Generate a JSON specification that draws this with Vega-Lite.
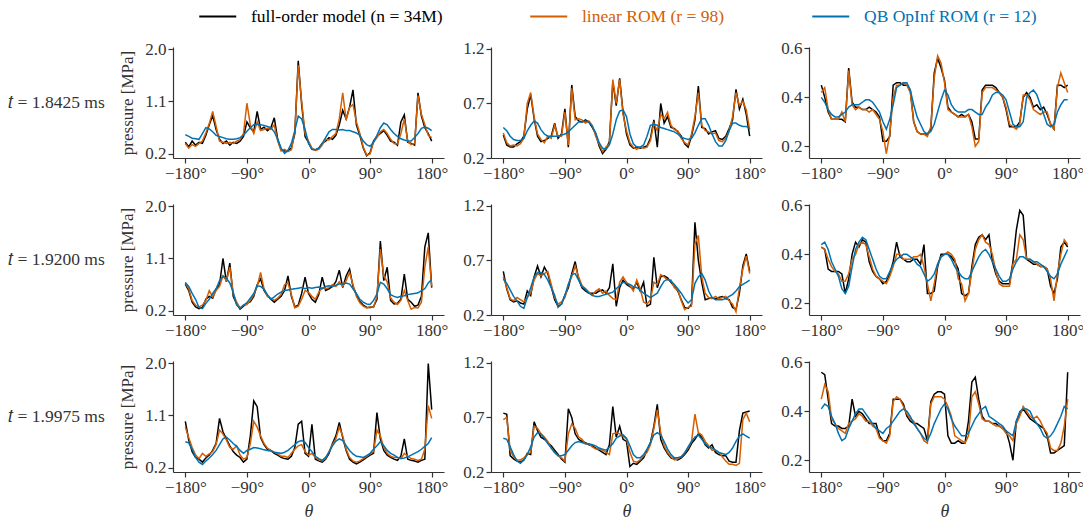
{
"$schema":"https://vega.github.io/schema/vega-lite/v6.json",
"padding":{"left":8,"top":6,"right":5,"bottom":2},
"background":"white",
"config":{"font":"Liberation Serif","view":{"stroke":null},
"axis":{"grid":false,"domainColor":"#333","tickColor":"#333","labelColor":"#333","titleColor":"#333","labelFontSize":17,"titleFontSize":17,"titleFontWeight":"normal","tickSize":5,"domainWidth":1.2,"tickWidth":1.2,"labelPadding":2,"titlePadding":8}},
"data":{"values":[
{"p":11,"x":-180,"f":0.4,"l":0.38,"q":0.53},{"p":11,"x":-175,"f":0.32,"l":0.3,"q":0.5},{"p":11,"x":-170,"f":0.42,"l":0.36,"q":0.47},{"p":11,"x":-165,"f":0.35,"l":0.33,"q":0.46},{"p":11,"x":-160,"f":0.4,"l":0.38,"q":0.45},{"p":11,"x":-155,"f":0.38,"l":0.42,"q":0.55},{"p":11,"x":-150,"f":0.52,"l":0.56,"q":0.65},{"p":11,"x":-145,"f":0.7,"l":0.72,"q":0.63},{"p":11,"x":-140,"f":0.86,"l":0.93,"q":0.58},{"p":11,"x":-135,"f":0.62,"l":0.67,"q":0.52},{"p":11,"x":-130,"f":0.45,"l":0.42,"q":0.5},{"p":11,"x":-125,"f":0.38,"l":0.4,"q":0.48},{"p":11,"x":-120,"f":0.42,"l":0.38,"q":0.46},{"p":11,"x":-115,"f":0.35,"l":0.4,"q":0.45},{"p":11,"x":-110,"f":0.4,"l":0.38,"q":0.45},{"p":11,"x":-105,"f":0.38,"l":0.42,"q":0.46},{"p":11,"x":-100,"f":0.42,"l":0.45,"q":0.48},{"p":11,"x":-95,"f":0.5,"l":0.55,"q":0.52},{"p":11,"x":-90,"f":0.75,"l":1.07,"q":0.59},{"p":11,"x":-85,"f":0.65,"l":0.7,"q":0.65},{"p":11,"x":-80,"f":0.58,"l":0.55,"q":0.7},{"p":11,"x":-75,"f":0.93,"l":0.75,"q":0.71},{"p":11,"x":-70,"f":0.62,"l":0.6,"q":0.7},{"p":11,"x":-65,"f":0.66,"l":0.62,"q":0.69},{"p":11,"x":-60,"f":0.6,"l":0.64,"q":0.67},{"p":11,"x":-55,"f":0.65,"l":0.62,"q":0.65},{"p":11,"x":-50,"f":0.82,"l":0.7,"q":0.58},{"p":11,"x":-45,"f":0.45,"l":0.42,"q":0.45},{"p":11,"x":-40,"f":0.27,"l":0.25,"q":0.3},{"p":11,"x":-35,"f":0.25,"l":0.28,"q":0.21},{"p":11,"x":-30,"f":0.26,"l":0.24,"q":0.26},{"p":11,"x":-25,"f":0.3,"l":0.27,"q":0.38},{"p":11,"x":-20,"f":0.55,"l":0.58,"q":0.6},{"p":11,"x":-15,"f":1.8,"l":1.72,"q":0.85},{"p":11,"x":-10,"f":1.05,"l":1.1,"q":0.8},{"p":11,"x":-5,"f":0.5,"l":0.55,"q":0.62},{"p":11,"x":0,"f":0.4,"l":0.42,"q":0.38},{"p":11,"x":5,"f":0.28,"l":0.3,"q":0.28},{"p":11,"x":10,"f":0.27,"l":0.26,"q":0.27},{"p":11,"x":15,"f":0.3,"l":0.28,"q":0.3},{"p":11,"x":20,"f":0.38,"l":0.35,"q":0.38},{"p":11,"x":25,"f":0.42,"l":0.45,"q":0.48},{"p":11,"x":30,"f":0.48,"l":0.44,"q":0.58},{"p":11,"x":35,"f":0.45,"l":0.5,"q":0.62},{"p":11,"x":40,"f":0.52,"l":0.55,"q":0.62},{"p":11,"x":45,"f":0.7,"l":0.8,"q":0.61},{"p":11,"x":50,"f":0.95,"l":1.25,"q":0.62},{"p":11,"x":55,"f":0.8,"l":0.78,"q":0.6},{"p":11,"x":60,"f":1.0,"l":1.0,"q":0.6},{"p":11,"x":65,"f":1.3,"l":1.05,"q":0.58},{"p":11,"x":70,"f":0.7,"l":0.75,"q":0.56},{"p":11,"x":75,"f":0.52,"l":0.55,"q":0.52},{"p":11,"x":80,"f":0.3,"l":0.32,"q":0.42},{"p":11,"x":85,"f":0.17,"l":0.18,"q":0.36},{"p":11,"x":90,"f":0.22,"l":0.2,"q":0.33},{"p":11,"x":95,"f":0.42,"l":0.4,"q":0.4},{"p":11,"x":100,"f":0.5,"l":0.48,"q":0.52},{"p":11,"x":105,"f":0.55,"l":0.58,"q":0.65},{"p":11,"x":110,"f":0.6,"l":0.62,"q":0.73},{"p":11,"x":115,"f":0.52,"l":0.55,"q":0.7},{"p":11,"x":120,"f":0.42,"l":0.45,"q":0.62},{"p":11,"x":125,"f":0.4,"l":0.38,"q":0.55},{"p":11,"x":130,"f":0.35,"l":0.37,"q":0.5},{"p":11,"x":135,"f":0.75,"l":0.55,"q":0.46},{"p":11,"x":140,"f":0.87,"l":0.8,"q":0.44},{"p":11,"x":145,"f":0.4,"l":0.42,"q":0.42},{"p":11,"x":150,"f":0.38,"l":0.36,"q":0.42},{"p":11,"x":155,"f":0.35,"l":0.38,"q":0.48},{"p":11,"x":160,"f":1.25,"l":1.2,"q":0.55},{"p":11,"x":165,"f":0.85,"l":0.88,"q":0.64},{"p":11,"x":170,"f":0.65,"l":0.7,"q":0.66},{"p":11,"x":175,"f":0.55,"l":0.52,"q":0.64},{"p":11,"x":180,"f":0.42,"l":0.48,"q":0.6},
{"p":12,"x":-180,"f":0.41,"l":0.43,"q":0.48},{"p":12,"x":-175,"f":0.32,"l":0.34,"q":0.45},{"p":12,"x":-170,"f":0.3,"l":0.31,"q":0.4},{"p":12,"x":-165,"f":0.3,"l":0.32,"q":0.37},{"p":12,"x":-160,"f":0.33,"l":0.31,"q":0.36},{"p":12,"x":-155,"f":0.35,"l":0.33,"q":0.36},{"p":12,"x":-150,"f":0.4,"l":0.38,"q":0.38},{"p":12,"x":-145,"f":0.65,"l":0.7,"q":0.45},{"p":12,"x":-140,"f":0.78,"l":0.8,"q":0.5},{"p":12,"x":-135,"f":0.56,"l":0.58,"q":0.54},{"p":12,"x":-130,"f":0.4,"l":0.42,"q":0.52},{"p":12,"x":-125,"f":0.35,"l":0.37,"q":0.46},{"p":12,"x":-120,"f":0.36,"l":0.34,"q":0.42},{"p":12,"x":-115,"f":0.38,"l":0.4,"q":0.4},{"p":12,"x":-110,"f":0.4,"l":0.38,"q":0.4},{"p":12,"x":-105,"f":0.52,"l":0.5,"q":0.4},{"p":12,"x":-100,"f":0.38,"l":0.4,"q":0.4},{"p":12,"x":-95,"f":0.42,"l":0.4,"q":0.41},{"p":12,"x":-90,"f":0.65,"l":0.62,"q":0.42},{"p":12,"x":-85,"f":0.3,"l":0.32,"q":0.44},{"p":12,"x":-80,"f":0.87,"l":0.84,"q":0.47},{"p":12,"x":-75,"f":0.58,"l":0.55,"q":0.5},{"p":12,"x":-70,"f":0.54,"l":0.56,"q":0.53},{"p":12,"x":-65,"f":0.53,"l":0.55,"q":0.53},{"p":12,"x":-60,"f":0.55,"l":0.52,"q":0.54},{"p":12,"x":-55,"f":0.53,"l":0.54,"q":0.53},{"p":12,"x":-50,"f":0.48,"l":0.5,"q":0.49},{"p":12,"x":-45,"f":0.42,"l":0.4,"q":0.43},{"p":12,"x":-40,"f":0.31,"l":0.33,"q":0.34},{"p":12,"x":-35,"f":0.24,"l":0.26,"q":0.29},{"p":12,"x":-30,"f":0.28,"l":0.3,"q":0.28},{"p":12,"x":-25,"f":0.35,"l":0.33,"q":0.32},{"p":12,"x":-20,"f":0.9,"l":0.92,"q":0.42},{"p":12,"x":-15,"f":0.68,"l":0.7,"q":0.55},{"p":12,"x":-10,"f":0.93,"l":0.92,"q":0.63},{"p":12,"x":-5,"f":0.62,"l":0.6,"q":0.64},{"p":12,"x":0,"f":0.42,"l":0.45,"q":0.58},{"p":12,"x":5,"f":0.32,"l":0.34,"q":0.42},{"p":12,"x":10,"f":0.29,"l":0.3,"q":0.33},{"p":12,"x":15,"f":0.3,"l":0.28,"q":0.3},{"p":12,"x":20,"f":0.29,"l":0.3,"q":0.3},{"p":12,"x":25,"f":0.3,"l":0.29,"q":0.32},{"p":12,"x":30,"f":0.31,"l":0.3,"q":0.4},{"p":12,"x":35,"f":0.38,"l":0.36,"q":0.5},{"p":12,"x":40,"f":0.55,"l":0.52,"q":0.51},{"p":12,"x":45,"f":0.3,"l":0.45,"q":0.5},{"p":12,"x":50,"f":0.7,"l":0.6,"q":0.48},{"p":12,"x":55,"f":0.52,"l":0.56,"q":0.47},{"p":12,"x":60,"f":0.58,"l":0.62,"q":0.46},{"p":12,"x":65,"f":0.48,"l":0.5,"q":0.45},{"p":12,"x":70,"f":0.47,"l":0.46,"q":0.44},{"p":12,"x":75,"f":0.44,"l":0.45,"q":0.42},{"p":12,"x":80,"f":0.4,"l":0.38,"q":0.39},{"p":12,"x":85,"f":0.33,"l":0.34,"q":0.38},{"p":12,"x":90,"f":0.3,"l":0.32,"q":0.37},{"p":12,"x":95,"f":0.4,"l":0.42,"q":0.38},{"p":12,"x":100,"f":0.55,"l":0.58,"q":0.43},{"p":12,"x":105,"f":0.86,"l":0.8,"q":0.5},{"p":12,"x":110,"f":0.48,"l":0.5,"q":0.56},{"p":12,"x":115,"f":0.47,"l":0.45,"q":0.56},{"p":12,"x":120,"f":0.42,"l":0.44,"q":0.5},{"p":12,"x":125,"f":0.44,"l":0.42,"q":0.42},{"p":12,"x":130,"f":0.45,"l":0.43,"q":0.35},{"p":12,"x":135,"f":0.38,"l":0.36,"q":0.31},{"p":12,"x":140,"f":0.37,"l":0.35,"q":0.31},{"p":12,"x":145,"f":0.4,"l":0.38,"q":0.36},{"p":12,"x":150,"f":0.47,"l":0.45,"q":0.45},{"p":12,"x":155,"f":0.55,"l":0.58,"q":0.52},{"p":12,"x":160,"f":0.83,"l":0.8,"q":0.52},{"p":12,"x":165,"f":0.65,"l":0.68,"q":0.5},{"p":12,"x":170,"f":0.74,"l":0.72,"q":0.49},{"p":12,"x":175,"f":0.6,"l":0.64,"q":0.49},{"p":12,"x":180,"f":0.4,"l":0.46,"q":0.47},
{"p":13,"x":-180,"f":0.45,"l":0.42,"q":0.4},{"p":13,"x":-175,"f":0.4,"l":0.44,"q":0.38},{"p":13,"x":-170,"f":0.34,"l":0.35,"q":0.35},{"p":13,"x":-165,"f":0.31,"l":0.31,"q":0.33},{"p":13,"x":-160,"f":0.31,"l":0.31,"q":0.32},{"p":13,"x":-155,"f":0.31,"l":0.31,"q":0.32},{"p":13,"x":-150,"f":0.31,"l":0.34,"q":0.33},{"p":13,"x":-145,"f":0.3,"l":0.3,"q":0.34},{"p":13,"x":-140,"f":0.52,"l":0.51,"q":0.36},{"p":13,"x":-135,"f":0.38,"l":0.37,"q":0.37},{"p":13,"x":-130,"f":0.36,"l":0.35,"q":0.37},{"p":13,"x":-125,"f":0.36,"l":0.36,"q":0.37},{"p":13,"x":-120,"f":0.35,"l":0.35,"q":0.38},{"p":13,"x":-115,"f":0.35,"l":0.35,"q":0.39},{"p":13,"x":-110,"f":0.36,"l":0.34,"q":0.39},{"p":13,"x":-105,"f":0.35,"l":0.35,"q":0.38},{"p":13,"x":-100,"f":0.34,"l":0.33,"q":0.36},{"p":13,"x":-95,"f":0.32,"l":0.31,"q":0.34},{"p":13,"x":-90,"f":0.22,"l":0.26,"q":0.3},{"p":13,"x":-85,"f":0.22,"l":0.17,"q":0.27},{"p":13,"x":-80,"f":0.24,"l":0.25,"q":0.31},{"p":13,"x":-75,"f":0.45,"l":0.4,"q":0.37},{"p":13,"x":-70,"f":0.46,"l":0.45,"q":0.44},{"p":13,"x":-65,"f":0.46,"l":0.45,"q":0.45},{"p":13,"x":-60,"f":0.45,"l":0.46,"q":0.46},{"p":13,"x":-55,"f":0.45,"l":0.45,"q":0.46},{"p":13,"x":-50,"f":0.43,"l":0.42,"q":0.43},{"p":13,"x":-45,"f":0.3,"l":0.3,"q":0.37},{"p":13,"x":-40,"f":0.26,"l":0.26,"q":0.32},{"p":13,"x":-35,"f":0.25,"l":0.25,"q":0.29},{"p":13,"x":-30,"f":0.25,"l":0.25,"q":0.26},{"p":13,"x":-25,"f":0.25,"l":0.24,"q":0.25},{"p":13,"x":-20,"f":0.27,"l":0.28,"q":0.26},{"p":13,"x":-15,"f":0.5,"l":0.48,"q":0.29},{"p":13,"x":-10,"f":0.56,"l":0.57,"q":0.34},{"p":13,"x":-5,"f":0.52,"l":0.54,"q":0.39},{"p":13,"x":0,"f":0.47,"l":0.46,"q":0.43},{"p":13,"x":5,"f":0.36,"l":0.35,"q":0.41},{"p":13,"x":10,"f":0.34,"l":0.34,"q":0.37},{"p":13,"x":15,"f":0.33,"l":0.33,"q":0.35},{"p":13,"x":20,"f":0.32,"l":0.32,"q":0.34},{"p":13,"x":25,"f":0.33,"l":0.32,"q":0.34},{"p":13,"x":30,"f":0.32,"l":0.32,"q":0.34},{"p":13,"x":35,"f":0.33,"l":0.33,"q":0.35},{"p":13,"x":40,"f":0.3,"l":0.28,"q":0.35},{"p":13,"x":45,"f":0.23,"l":0.2,"q":0.34},{"p":13,"x":50,"f":0.23,"l":0.22,"q":0.33},{"p":13,"x":55,"f":0.43,"l":0.42,"q":0.33},{"p":13,"x":60,"f":0.45,"l":0.44,"q":0.36},{"p":13,"x":65,"f":0.45,"l":0.44,"q":0.38},{"p":13,"x":70,"f":0.45,"l":0.44,"q":0.41},{"p":13,"x":75,"f":0.44,"l":0.43,"q":0.42},{"p":13,"x":80,"f":0.42,"l":0.42,"q":0.42},{"p":13,"x":85,"f":0.4,"l":0.4,"q":0.41},{"p":13,"x":90,"f":0.35,"l":0.36,"q":0.39},{"p":13,"x":95,"f":0.28,"l":0.29,"q":0.34},{"p":13,"x":100,"f":0.28,"l":0.28,"q":0.29},{"p":13,"x":105,"f":0.28,"l":0.27,"q":0.28},{"p":13,"x":110,"f":0.3,"l":0.29,"q":0.28},{"p":13,"x":115,"f":0.4,"l":0.41,"q":0.3},{"p":13,"x":120,"f":0.42,"l":0.41,"q":0.4},{"p":13,"x":125,"f":0.4,"l":0.39,"q":0.42},{"p":13,"x":130,"f":0.36,"l":0.35,"q":0.43},{"p":13,"x":135,"f":0.37,"l":0.34,"q":0.41},{"p":13,"x":140,"f":0.35,"l":0.33,"q":0.37},{"p":13,"x":145,"f":0.36,"l":0.34,"q":0.33},{"p":13,"x":150,"f":0.33,"l":0.34,"q":0.29},{"p":13,"x":155,"f":0.29,"l":0.29,"q":0.28},{"p":13,"x":160,"f":0.27,"l":0.27,"q":0.29},{"p":13,"x":165,"f":0.45,"l":0.44,"q":0.34},{"p":13,"x":170,"f":0.45,"l":0.5,"q":0.37},{"p":13,"x":175,"f":0.44,"l":0.46,"q":0.39},{"p":13,"x":180,"f":0.45,"l":0.42,"q":0.39},
{"p":21,"x":-180,"f":0.66,"l":0.68,"q":0.69},{"p":21,"x":-175,"f":0.55,"l":0.58,"q":0.62},{"p":21,"x":-170,"f":0.35,"l":0.38,"q":0.5},{"p":21,"x":-165,"f":0.27,"l":0.3,"q":0.4},{"p":21,"x":-160,"f":0.24,"l":0.27,"q":0.26},{"p":21,"x":-155,"f":0.26,"l":0.3,"q":0.24},{"p":21,"x":-150,"f":0.4,"l":0.38,"q":0.33},{"p":21,"x":-145,"f":0.45,"l":0.55,"q":0.4},{"p":21,"x":-140,"f":0.42,"l":0.44,"q":0.5},{"p":21,"x":-135,"f":0.58,"l":0.55,"q":0.58},{"p":21,"x":-130,"f":0.65,"l":0.62,"q":0.72},{"p":21,"x":-125,"f":1.1,"l":0.8,"q":0.8},{"p":21,"x":-120,"f":0.7,"l":0.72,"q":0.76},{"p":21,"x":-115,"f":1.02,"l":0.95,"q":0.68},{"p":21,"x":-110,"f":0.45,"l":0.5,"q":0.52},{"p":21,"x":-105,"f":0.32,"l":0.35,"q":0.3},{"p":21,"x":-100,"f":0.23,"l":0.25,"q":0.25},{"p":21,"x":-95,"f":0.28,"l":0.3,"q":0.3},{"p":21,"x":-90,"f":0.33,"l":0.31,"q":0.34},{"p":21,"x":-85,"f":0.36,"l":0.38,"q":0.42},{"p":21,"x":-80,"f":0.45,"l":0.48,"q":0.5},{"p":21,"x":-75,"f":0.65,"l":0.62,"q":0.63},{"p":21,"x":-70,"f":0.75,"l":0.86,"q":0.62},{"p":21,"x":-65,"f":0.55,"l":0.58,"q":0.57},{"p":21,"x":-60,"f":0.46,"l":0.45,"q":0.48},{"p":21,"x":-55,"f":0.4,"l":0.42,"q":0.4},{"p":21,"x":-50,"f":0.35,"l":0.38,"q":0.44},{"p":21,"x":-45,"f":0.4,"l":0.42,"q":0.49},{"p":21,"x":-40,"f":0.45,"l":0.48,"q":0.52},{"p":21,"x":-35,"f":0.55,"l":0.65,"q":0.55},{"p":21,"x":-30,"f":0.8,"l":0.68,"q":0.56},{"p":21,"x":-25,"f":0.45,"l":0.48,"q":0.57},{"p":21,"x":-20,"f":0.27,"l":0.25,"q":0.58},{"p":21,"x":-15,"f":0.3,"l":0.28,"q":0.59},{"p":21,"x":-10,"f":0.5,"l":0.4,"q":0.6},{"p":21,"x":-5,"f":0.78,"l":0.55,"q":0.58},{"p":21,"x":0,"f":0.5,"l":0.52,"q":0.6},{"p":21,"x":5,"f":0.4,"l":0.45,"q":0.59},{"p":21,"x":10,"f":0.35,"l":0.4,"q":0.6},{"p":21,"x":15,"f":0.48,"l":0.52,"q":0.61},{"p":21,"x":20,"f":0.78,"l":0.6,"q":0.58},{"p":21,"x":25,"f":0.55,"l":0.58,"q":0.62},{"p":21,"x":30,"f":0.58,"l":0.6,"q":0.63},{"p":21,"x":35,"f":0.62,"l":0.65,"q":0.62},{"p":21,"x":40,"f":0.7,"l":0.62,"q":0.64},{"p":21,"x":45,"f":0.9,"l":0.7,"q":0.66},{"p":21,"x":50,"f":0.6,"l":0.62,"q":0.66},{"p":21,"x":55,"f":0.8,"l":0.72,"q":0.68},{"p":21,"x":60,"f":0.92,"l":0.86,"q":0.66},{"p":21,"x":65,"f":0.62,"l":0.65,"q":0.58},{"p":21,"x":70,"f":0.48,"l":0.45,"q":0.5},{"p":21,"x":75,"f":0.36,"l":0.34,"q":0.4},{"p":21,"x":80,"f":0.3,"l":0.28,"q":0.35},{"p":21,"x":85,"f":0.26,"l":0.25,"q":0.32},{"p":21,"x":90,"f":0.26,"l":0.27,"q":0.31},{"p":21,"x":95,"f":0.27,"l":0.26,"q":0.38},{"p":21,"x":100,"f":0.4,"l":0.45,"q":0.49},{"p":21,"x":105,"f":1.4,"l":1.26,"q":0.69},{"p":21,"x":110,"f":0.72,"l":0.8,"q":0.66},{"p":21,"x":115,"f":0.95,"l":0.7,"q":0.58},{"p":21,"x":120,"f":0.38,"l":0.42,"q":0.48},{"p":21,"x":125,"f":0.32,"l":0.35,"q":0.45},{"p":21,"x":130,"f":0.33,"l":0.31,"q":0.43},{"p":21,"x":135,"f":0.4,"l":0.38,"q":0.45},{"p":21,"x":140,"f":0.83,"l":0.55,"q":0.46},{"p":21,"x":145,"f":0.4,"l":0.38,"q":0.48},{"p":21,"x":150,"f":0.35,"l":0.23,"q":0.49},{"p":21,"x":155,"f":0.28,"l":0.26,"q":0.5},{"p":21,"x":160,"f":0.3,"l":0.25,"q":0.51},{"p":21,"x":165,"f":0.45,"l":0.35,"q":0.55},{"p":21,"x":170,"f":1.3,"l":0.95,"q":0.58},{"p":21,"x":175,"f":1.54,"l":1.3,"q":0.68},{"p":21,"x":180,"f":0.6,"l":0.62,"q":0.74},
{"p":22,"x":-180,"f":0.6,"l":0.55,"q":0.53},{"p":22,"x":-175,"f":0.44,"l":0.45,"q":0.49},{"p":22,"x":-170,"f":0.34,"l":0.35,"q":0.43},{"p":22,"x":-165,"f":0.32,"l":0.33,"q":0.37},{"p":22,"x":-160,"f":0.33,"l":0.36,"q":0.33},{"p":22,"x":-155,"f":0.31,"l":0.34,"q":0.28},{"p":22,"x":-150,"f":0.3,"l":0.32,"q":0.26},{"p":22,"x":-145,"f":0.42,"l":0.36,"q":0.36},{"p":22,"x":-140,"f":0.38,"l":0.4,"q":0.45},{"p":22,"x":-135,"f":0.55,"l":0.52,"q":0.55},{"p":22,"x":-130,"f":0.65,"l":0.58,"q":0.59},{"p":22,"x":-125,"f":0.55,"l":0.56,"q":0.59},{"p":22,"x":-120,"f":0.64,"l":0.58,"q":0.57},{"p":22,"x":-115,"f":0.58,"l":0.6,"q":0.52},{"p":22,"x":-110,"f":0.46,"l":0.48,"q":0.45},{"p":22,"x":-105,"f":0.34,"l":0.36,"q":0.38},{"p":22,"x":-100,"f":0.28,"l":0.3,"q":0.27},{"p":22,"x":-95,"f":0.3,"l":0.32,"q":0.3},{"p":22,"x":-90,"f":0.38,"l":0.36,"q":0.38},{"p":22,"x":-85,"f":0.45,"l":0.48,"q":0.48},{"p":22,"x":-80,"f":0.58,"l":0.55,"q":0.57},{"p":22,"x":-75,"f":0.69,"l":0.65,"q":0.58},{"p":22,"x":-70,"f":0.53,"l":0.55,"q":0.52},{"p":22,"x":-65,"f":0.45,"l":0.47,"q":0.46},{"p":22,"x":-60,"f":0.42,"l":0.44,"q":0.44},{"p":22,"x":-55,"f":0.4,"l":0.41,"q":0.4},{"p":22,"x":-50,"f":0.4,"l":0.38,"q":0.38},{"p":22,"x":-45,"f":0.4,"l":0.42,"q":0.37},{"p":22,"x":-40,"f":0.42,"l":0.44,"q":0.37},{"p":22,"x":-35,"f":0.43,"l":0.4,"q":0.38},{"p":22,"x":-30,"f":0.4,"l":0.42,"q":0.39},{"p":22,"x":-25,"f":0.45,"l":0.38,"q":0.4},{"p":22,"x":-20,"f":0.67,"l":0.35,"q":0.41},{"p":22,"x":-15,"f":0.28,"l":0.34,"q":0.44},{"p":22,"x":-10,"f":0.45,"l":0.5,"q":0.47},{"p":22,"x":-5,"f":0.52,"l":0.55,"q":0.5},{"p":22,"x":0,"f":0.48,"l":0.5,"q":0.49},{"p":22,"x":5,"f":0.46,"l":0.47,"q":0.48},{"p":22,"x":10,"f":0.44,"l":0.42,"q":0.46},{"p":22,"x":15,"f":0.5,"l":0.52,"q":0.45},{"p":22,"x":20,"f":0.42,"l":0.44,"q":0.43},{"p":22,"x":25,"f":0.5,"l":0.32,"q":0.4},{"p":22,"x":30,"f":0.28,"l":0.3,"q":0.38},{"p":22,"x":35,"f":0.3,"l":0.34,"q":0.36},{"p":22,"x":40,"f":0.73,"l":0.5,"q":0.38},{"p":22,"x":45,"f":0.45,"l":0.48,"q":0.4},{"p":22,"x":50,"f":0.55,"l":0.57,"q":0.46},{"p":22,"x":55,"f":0.56,"l":0.55,"q":0.51},{"p":22,"x":60,"f":0.54,"l":0.52,"q":0.53},{"p":22,"x":65,"f":0.5,"l":0.52,"q":0.51},{"p":22,"x":70,"f":0.46,"l":0.45,"q":0.48},{"p":22,"x":75,"f":0.42,"l":0.43,"q":0.44},{"p":22,"x":80,"f":0.34,"l":0.33,"q":0.4},{"p":22,"x":85,"f":0.27,"l":0.25,"q":0.35},{"p":22,"x":90,"f":0.26,"l":0.27,"q":0.31},{"p":22,"x":95,"f":0.3,"l":0.28,"q":0.34},{"p":22,"x":100,"f":1.05,"l":0.85,"q":0.49},{"p":22,"x":105,"f":0.7,"l":0.93,"q":0.55},{"p":22,"x":110,"f":0.5,"l":0.55,"q":0.58},{"p":22,"x":115,"f":0.34,"l":0.4,"q":0.52},{"p":22,"x":120,"f":0.35,"l":0.36,"q":0.42},{"p":22,"x":125,"f":0.36,"l":0.35,"q":0.36},{"p":22,"x":130,"f":0.35,"l":0.37,"q":0.34},{"p":22,"x":135,"f":0.36,"l":0.35,"q":0.34},{"p":22,"x":140,"f":0.37,"l":0.36,"q":0.34},{"p":22,"x":145,"f":0.35,"l":0.37,"q":0.35},{"p":22,"x":150,"f":0.34,"l":0.33,"q":0.37},{"p":22,"x":155,"f":0.27,"l":0.3,"q":0.39},{"p":22,"x":160,"f":0.25,"l":0.23,"q":0.42},{"p":22,"x":165,"f":0.4,"l":0.45,"q":0.46},{"p":22,"x":170,"f":0.65,"l":0.62,"q":0.48},{"p":22,"x":175,"f":0.76,"l":0.74,"q":0.5},{"p":22,"x":180,"f":0.6,"l":0.58,"q":0.52},
{"p":23,"x":-180,"f":0.43,"l":0.43,"q":0.44},{"p":23,"x":-175,"f":0.42,"l":0.42,"q":0.45},{"p":23,"x":-170,"f":0.34,"l":0.38,"q":0.42},{"p":23,"x":-165,"f":0.33,"l":0.35,"q":0.37},{"p":23,"x":-160,"f":0.33,"l":0.33,"q":0.34},{"p":23,"x":-155,"f":0.33,"l":0.32,"q":0.31},{"p":23,"x":-150,"f":0.32,"l":0.29,"q":0.26},{"p":23,"x":-145,"f":0.24,"l":0.29,"q":0.24},{"p":23,"x":-140,"f":0.3,"l":0.32,"q":0.27},{"p":23,"x":-135,"f":0.4,"l":0.38,"q":0.35},{"p":23,"x":-130,"f":0.45,"l":0.4,"q":0.42},{"p":23,"x":-125,"f":0.43,"l":0.44,"q":0.45},{"p":23,"x":-120,"f":0.46,"l":0.45,"q":0.47},{"p":23,"x":-115,"f":0.45,"l":0.44,"q":0.46},{"p":23,"x":-110,"f":0.37,"l":0.39,"q":0.42},{"p":23,"x":-105,"f":0.33,"l":0.34,"q":0.38},{"p":23,"x":-100,"f":0.31,"l":0.31,"q":0.34},{"p":23,"x":-95,"f":0.3,"l":0.3,"q":0.31},{"p":23,"x":-90,"f":0.28,"l":0.29,"q":0.3},{"p":23,"x":-85,"f":0.29,"l":0.28,"q":0.3},{"p":23,"x":-80,"f":0.32,"l":0.31,"q":0.33},{"p":23,"x":-75,"f":0.37,"l":0.35,"q":0.36},{"p":23,"x":-70,"f":0.45,"l":0.4,"q":0.38},{"p":23,"x":-65,"f":0.39,"l":0.4,"q":0.39},{"p":23,"x":-60,"f":0.38,"l":0.38,"q":0.4},{"p":23,"x":-55,"f":0.37,"l":0.38,"q":0.4},{"p":23,"x":-50,"f":0.37,"l":0.38,"q":0.39},{"p":23,"x":-45,"f":0.38,"l":0.39,"q":0.38},{"p":23,"x":-40,"f":0.38,"l":0.39,"q":0.36},{"p":23,"x":-35,"f":0.36,"l":0.4,"q":0.35},{"p":23,"x":-30,"f":0.44,"l":0.35,"q":0.32},{"p":23,"x":-25,"f":0.24,"l":0.28,"q":0.29},{"p":23,"x":-20,"f":0.24,"l":0.21,"q":0.3},{"p":23,"x":-15,"f":0.25,"l":0.28,"q":0.32},{"p":23,"x":-10,"f":0.35,"l":0.36,"q":0.36},{"p":23,"x":-5,"f":0.4,"l":0.39,"q":0.39},{"p":23,"x":0,"f":0.4,"l":0.4,"q":0.4},{"p":23,"x":5,"f":0.4,"l":0.41,"q":0.4},{"p":23,"x":10,"f":0.39,"l":0.4,"q":0.38},{"p":23,"x":15,"f":0.37,"l":0.38,"q":0.35},{"p":23,"x":20,"f":0.34,"l":0.3,"q":0.33},{"p":23,"x":25,"f":0.24,"l":0.28,"q":0.31},{"p":23,"x":30,"f":0.23,"l":0.21,"q":0.3},{"p":23,"x":35,"f":0.24,"l":0.24,"q":0.3},{"p":23,"x":40,"f":0.35,"l":0.33,"q":0.33},{"p":23,"x":45,"f":0.44,"l":0.42,"q":0.36},{"p":23,"x":50,"f":0.47,"l":0.46,"q":0.39},{"p":23,"x":55,"f":0.48,"l":0.48,"q":0.41},{"p":23,"x":60,"f":0.46,"l":0.45,"q":0.42},{"p":23,"x":65,"f":0.48,"l":0.44,"q":0.4},{"p":23,"x":70,"f":0.37,"l":0.4,"q":0.37},{"p":23,"x":75,"f":0.32,"l":0.33,"q":0.34},{"p":23,"x":80,"f":0.29,"l":0.28,"q":0.31},{"p":23,"x":85,"f":0.28,"l":0.27,"q":0.29},{"p":23,"x":90,"f":0.28,"l":0.27,"q":0.29},{"p":23,"x":95,"f":0.28,"l":0.27,"q":0.3},{"p":23,"x":100,"f":0.37,"l":0.36,"q":0.34},{"p":23,"x":105,"f":0.5,"l":0.38,"q":0.37},{"p":23,"x":110,"f":0.58,"l":0.48,"q":0.39},{"p":23,"x":115,"f":0.56,"l":0.46,"q":0.39},{"p":23,"x":120,"f":0.38,"l":0.38,"q":0.38},{"p":23,"x":125,"f":0.37,"l":0.38,"q":0.38},{"p":23,"x":130,"f":0.36,"l":0.37,"q":0.37},{"p":23,"x":135,"f":0.36,"l":0.36,"q":0.37},{"p":23,"x":140,"f":0.35,"l":0.35,"q":0.36},{"p":23,"x":145,"f":0.35,"l":0.35,"q":0.35},{"p":23,"x":150,"f":0.34,"l":0.34,"q":0.33},{"p":23,"x":155,"f":0.27,"l":0.3,"q":0.31},{"p":23,"x":160,"f":0.24,"l":0.21,"q":0.3},{"p":23,"x":165,"f":0.3,"l":0.32,"q":0.32},{"p":23,"x":170,"f":0.43,"l":0.4,"q":0.36},{"p":23,"x":175,"f":0.45,"l":0.46,"q":0.39},{"p":23,"x":180,"f":0.43,"l":0.44,"q":0.42},
{"p":31,"x":-180,"f":1.0,"l":0.9,"q":0.65},{"p":31,"x":-175,"f":0.68,"l":0.72,"q":0.63},{"p":31,"x":-170,"f":0.48,"l":0.55,"q":0.52},{"p":31,"x":-165,"f":0.38,"l":0.42,"q":0.38},{"p":31,"x":-160,"f":0.35,"l":0.36,"q":0.3},{"p":31,"x":-155,"f":0.3,"l":0.45,"q":0.26},{"p":31,"x":-150,"f":0.37,"l":0.4,"q":0.32},{"p":31,"x":-145,"f":0.42,"l":0.44,"q":0.37},{"p":31,"x":-140,"f":0.5,"l":0.48,"q":0.43},{"p":31,"x":-135,"f":0.62,"l":0.6,"q":0.5},{"p":31,"x":-130,"f":1.05,"l":0.85,"q":0.6},{"p":31,"x":-125,"f":0.82,"l":0.78,"q":0.7},{"p":31,"x":-120,"f":0.7,"l":0.68,"q":0.73},{"p":31,"x":-115,"f":0.58,"l":0.55,"q":0.68},{"p":31,"x":-110,"f":0.48,"l":0.52,"q":0.62},{"p":31,"x":-105,"f":0.42,"l":0.58,"q":0.57},{"p":31,"x":-100,"f":0.38,"l":0.42,"q":0.5},{"p":31,"x":-95,"f":0.3,"l":0.35,"q":0.45},{"p":31,"x":-90,"f":0.35,"l":0.38,"q":0.5},{"p":31,"x":-85,"f":0.75,"l":0.62,"q":0.52},{"p":31,"x":-80,"f":1.35,"l":1.0,"q":0.55},{"p":31,"x":-75,"f":1.25,"l":0.9,"q":0.54},{"p":31,"x":-70,"f":0.72,"l":0.75,"q":0.53},{"p":31,"x":-65,"f":0.6,"l":0.62,"q":0.51},{"p":31,"x":-60,"f":0.52,"l":0.54,"q":0.5},{"p":31,"x":-55,"f":0.5,"l":0.5,"q":0.49},{"p":31,"x":-50,"f":0.45,"l":0.47,"q":0.47},{"p":31,"x":-45,"f":0.42,"l":0.44,"q":0.46},{"p":31,"x":-40,"f":0.38,"l":0.4,"q":0.45},{"p":31,"x":-35,"f":0.36,"l":0.4,"q":0.47},{"p":31,"x":-30,"f":0.35,"l":0.38,"q":0.5},{"p":31,"x":-25,"f":0.4,"l":0.45,"q":0.55},{"p":31,"x":-20,"f":0.55,"l":0.52,"q":0.6},{"p":31,"x":-15,"f":0.95,"l":0.58,"q":0.65},{"p":31,"x":-10,"f":1.0,"l":0.6,"q":0.67},{"p":31,"x":-5,"f":0.45,"l":0.48,"q":0.64},{"p":31,"x":0,"f":0.4,"l":0.42,"q":0.55},{"p":31,"x":5,"f":0.95,"l":0.45,"q":0.48},{"p":31,"x":10,"f":0.35,"l":0.38,"q":0.4},{"p":31,"x":15,"f":0.32,"l":0.34,"q":0.36},{"p":31,"x":20,"f":0.3,"l":0.32,"q":0.33},{"p":31,"x":25,"f":0.35,"l":0.36,"q":0.38},{"p":31,"x":30,"f":0.45,"l":0.48,"q":0.47},{"p":31,"x":35,"f":0.62,"l":0.6,"q":0.58},{"p":31,"x":40,"f":0.75,"l":0.7,"q":0.66},{"p":31,"x":45,"f":0.98,"l":0.9,"q":0.7},{"p":31,"x":50,"f":0.72,"l":0.75,"q":0.67},{"p":31,"x":55,"f":0.5,"l":0.52,"q":0.58},{"p":31,"x":60,"f":0.35,"l":0.38,"q":0.5},{"p":31,"x":65,"f":0.3,"l":0.32,"q":0.44},{"p":31,"x":70,"f":0.27,"l":0.3,"q":0.4},{"p":31,"x":75,"f":0.3,"l":0.32,"q":0.39},{"p":31,"x":80,"f":0.34,"l":0.36,"q":0.38},{"p":31,"x":85,"f":0.38,"l":0.4,"q":0.41},{"p":31,"x":90,"f":0.42,"l":0.44,"q":0.45},{"p":31,"x":95,"f":0.45,"l":0.48,"q":0.52},{"p":31,"x":100,"f":1.15,"l":0.85,"q":0.58},{"p":31,"x":105,"f":0.7,"l":0.75,"q":0.65},{"p":31,"x":110,"f":0.5,"l":0.55,"q":0.58},{"p":31,"x":115,"f":0.42,"l":0.45,"q":0.5},{"p":31,"x":120,"f":0.38,"l":0.4,"q":0.45},{"p":31,"x":125,"f":0.35,"l":0.38,"q":0.42},{"p":31,"x":130,"f":0.33,"l":0.38,"q":0.38},{"p":31,"x":135,"f":0.4,"l":0.36,"q":0.36},{"p":31,"x":140,"f":0.7,"l":0.45,"q":0.37},{"p":31,"x":145,"f":0.35,"l":0.4,"q":0.39},{"p":31,"x":150,"f":0.33,"l":0.36,"q":0.42},{"p":31,"x":155,"f":0.32,"l":0.35,"q":0.45},{"p":31,"x":160,"f":0.3,"l":0.33,"q":0.48},{"p":31,"x":165,"f":0.33,"l":0.35,"q":0.52},{"p":31,"x":170,"f":0.35,"l":0.52,"q":0.57},{"p":31,"x":175,"f":1.99,"l":1.27,"q":0.62},{"p":31,"x":180,"f":1.2,"l":1.05,"q":0.72},
{"p":32,"x":-180,"f":0.74,"l":0.68,"q":0.51},{"p":32,"x":-175,"f":0.73,"l":0.7,"q":0.5},{"p":32,"x":-170,"f":0.35,"l":0.4,"q":0.43},{"p":32,"x":-165,"f":0.32,"l":0.34,"q":0.36},{"p":32,"x":-160,"f":0.3,"l":0.31,"q":0.3},{"p":32,"x":-155,"f":0.29,"l":0.31,"q":0.28},{"p":32,"x":-150,"f":0.31,"l":0.33,"q":0.31},{"p":32,"x":-145,"f":0.37,"l":0.36,"q":0.36},{"p":32,"x":-140,"f":0.36,"l":0.38,"q":0.43},{"p":32,"x":-135,"f":0.66,"l":0.62,"q":0.52},{"p":32,"x":-130,"f":0.58,"l":0.6,"q":0.56},{"p":32,"x":-125,"f":0.52,"l":0.55,"q":0.55},{"p":32,"x":-120,"f":0.5,"l":0.52,"q":0.51},{"p":32,"x":-115,"f":0.47,"l":0.48,"q":0.46},{"p":32,"x":-110,"f":0.44,"l":0.42,"q":0.42},{"p":32,"x":-105,"f":0.4,"l":0.38,"q":0.38},{"p":32,"x":-100,"f":0.36,"l":0.35,"q":0.35},{"p":32,"x":-95,"f":0.32,"l":0.33,"q":0.35},{"p":32,"x":-90,"f":0.29,"l":0.3,"q":0.36},{"p":32,"x":-85,"f":0.78,"l":0.55,"q":0.4},{"p":32,"x":-80,"f":0.7,"l":0.64,"q":0.44},{"p":32,"x":-75,"f":0.55,"l":0.6,"q":0.47},{"p":32,"x":-70,"f":0.5,"l":0.52,"q":0.48},{"p":32,"x":-65,"f":0.48,"l":0.5,"q":0.47},{"p":32,"x":-60,"f":0.47,"l":0.46,"q":0.46},{"p":32,"x":-55,"f":0.45,"l":0.46,"q":0.46},{"p":32,"x":-50,"f":0.44,"l":0.43,"q":0.45},{"p":32,"x":-45,"f":0.42,"l":0.41,"q":0.44},{"p":32,"x":-40,"f":0.4,"l":0.41,"q":0.42},{"p":32,"x":-35,"f":0.38,"l":0.4,"q":0.41},{"p":32,"x":-30,"f":0.36,"l":0.38,"q":0.4},{"p":32,"x":-25,"f":0.45,"l":0.36,"q":0.43},{"p":32,"x":-20,"f":0.8,"l":0.55,"q":0.46},{"p":32,"x":-15,"f":0.52,"l":0.56,"q":0.51},{"p":32,"x":-10,"f":0.62,"l":0.55,"q":0.53},{"p":32,"x":-5,"f":0.5,"l":0.53,"q":0.54},{"p":32,"x":0,"f":0.48,"l":0.5,"q":0.51},{"p":32,"x":5,"f":0.25,"l":0.38,"q":0.44},{"p":32,"x":10,"f":0.28,"l":0.3,"q":0.36},{"p":32,"x":15,"f":0.27,"l":0.29,"q":0.33},{"p":32,"x":20,"f":0.3,"l":0.31,"q":0.33},{"p":32,"x":25,"f":0.33,"l":0.35,"q":0.36},{"p":32,"x":30,"f":0.4,"l":0.38,"q":0.41},{"p":32,"x":35,"f":0.47,"l":0.45,"q":0.47},{"p":32,"x":40,"f":0.62,"l":0.6,"q":0.54},{"p":32,"x":45,"f":0.82,"l":0.77,"q":0.56},{"p":32,"x":50,"f":0.5,"l":0.56,"q":0.54},{"p":32,"x":55,"f":0.42,"l":0.44,"q":0.48},{"p":32,"x":60,"f":0.37,"l":0.38,"q":0.41},{"p":32,"x":65,"f":0.33,"l":0.34,"q":0.36},{"p":32,"x":70,"f":0.32,"l":0.31,"q":0.33},{"p":32,"x":75,"f":0.31,"l":0.32,"q":0.33},{"p":32,"x":80,"f":0.33,"l":0.34,"q":0.34},{"p":32,"x":85,"f":0.36,"l":0.38,"q":0.37},{"p":32,"x":90,"f":0.4,"l":0.42,"q":0.43},{"p":32,"x":95,"f":0.46,"l":0.48,"q":0.48},{"p":32,"x":100,"f":0.5,"l":0.73,"q":0.52},{"p":32,"x":105,"f":0.55,"l":0.56,"q":0.54},{"p":32,"x":110,"f":0.52,"l":0.54,"q":0.5},{"p":32,"x":115,"f":0.45,"l":0.48,"q":0.46},{"p":32,"x":120,"f":0.42,"l":0.44,"q":0.43},{"p":32,"x":125,"f":0.45,"l":0.4,"q":0.42},{"p":32,"x":130,"f":0.38,"l":0.4,"q":0.4},{"p":32,"x":135,"f":0.36,"l":0.38,"q":0.38},{"p":32,"x":140,"f":0.35,"l":0.34,"q":0.37},{"p":32,"x":145,"f":0.35,"l":0.3,"q":0.36},{"p":32,"x":150,"f":0.3,"l":0.27,"q":0.38},{"p":32,"x":155,"f":0.29,"l":0.27,"q":0.42},{"p":32,"x":160,"f":0.29,"l":0.26,"q":0.48},{"p":32,"x":165,"f":0.58,"l":0.28,"q":0.53},{"p":32,"x":170,"f":0.74,"l":0.68,"q":0.55},{"p":32,"x":175,"f":0.75,"l":0.74,"q":0.53},{"p":32,"x":180,"f":0.76,"l":0.66,"q":0.51},
{"p":33,"x":-180,"f":0.56,"l":0.45,"q":0.41},{"p":33,"x":-175,"f":0.55,"l":0.51,"q":0.43},{"p":33,"x":-170,"f":0.45,"l":0.48,"q":0.42},{"p":33,"x":-165,"f":0.35,"l":0.37,"q":0.38},{"p":33,"x":-160,"f":0.34,"l":0.35,"q":0.35},{"p":33,"x":-155,"f":0.34,"l":0.33,"q":0.31},{"p":33,"x":-150,"f":0.33,"l":0.32,"q":0.28},{"p":33,"x":-145,"f":0.33,"l":0.31,"q":0.29},{"p":33,"x":-140,"f":0.34,"l":0.35,"q":0.33},{"p":33,"x":-135,"f":0.45,"l":0.36,"q":0.36},{"p":33,"x":-130,"f":0.38,"l":0.37,"q":0.39},{"p":33,"x":-125,"f":0.4,"l":0.39,"q":0.41},{"p":33,"x":-120,"f":0.39,"l":0.38,"q":0.41},{"p":33,"x":-115,"f":0.37,"l":0.36,"q":0.39},{"p":33,"x":-110,"f":0.35,"l":0.36,"q":0.37},{"p":33,"x":-105,"f":0.35,"l":0.34,"q":0.35},{"p":33,"x":-100,"f":0.35,"l":0.33,"q":0.33},{"p":33,"x":-95,"f":0.3,"l":0.29,"q":0.32},{"p":33,"x":-90,"f":0.28,"l":0.28,"q":0.31},{"p":33,"x":-85,"f":0.28,"l":0.27,"q":0.33},{"p":33,"x":-80,"f":0.31,"l":0.3,"q":0.34},{"p":33,"x":-75,"f":0.45,"l":0.44,"q":0.36},{"p":33,"x":-70,"f":0.45,"l":0.46,"q":0.38},{"p":33,"x":-65,"f":0.45,"l":0.45,"q":0.4},{"p":33,"x":-60,"f":0.43,"l":0.42,"q":0.41},{"p":33,"x":-55,"f":0.38,"l":0.39,"q":0.4},{"p":33,"x":-50,"f":0.36,"l":0.37,"q":0.38},{"p":33,"x":-45,"f":0.35,"l":0.36,"q":0.35},{"p":33,"x":-40,"f":0.35,"l":0.33,"q":0.33},{"p":33,"x":-35,"f":0.34,"l":0.31,"q":0.31},{"p":33,"x":-30,"f":0.33,"l":0.28,"q":0.29},{"p":33,"x":-25,"f":0.28,"l":0.27,"q":0.28},{"p":33,"x":-20,"f":0.44,"l":0.43,"q":0.31},{"p":33,"x":-15,"f":0.47,"l":0.46,"q":0.35},{"p":33,"x":-10,"f":0.48,"l":0.46,"q":0.38},{"p":33,"x":-5,"f":0.48,"l":0.46,"q":0.41},{"p":33,"x":0,"f":0.47,"l":0.45,"q":0.43},{"p":33,"x":5,"f":0.3,"l":0.42,"q":0.41},{"p":33,"x":10,"f":0.27,"l":0.38,"q":0.37},{"p":33,"x":15,"f":0.27,"l":0.3,"q":0.34},{"p":33,"x":20,"f":0.28,"l":0.29,"q":0.32},{"p":33,"x":25,"f":0.27,"l":0.28,"q":0.3},{"p":33,"x":30,"f":0.27,"l":0.27,"q":0.3},{"p":33,"x":35,"f":0.36,"l":0.3,"q":0.31},{"p":33,"x":40,"f":0.52,"l":0.46,"q":0.34},{"p":33,"x":45,"f":0.54,"l":0.48,"q":0.37},{"p":33,"x":50,"f":0.45,"l":0.43,"q":0.39},{"p":33,"x":55,"f":0.38,"l":0.37,"q":0.41},{"p":33,"x":60,"f":0.36,"l":0.36,"q":0.42},{"p":33,"x":65,"f":0.36,"l":0.36,"q":0.38},{"p":33,"x":70,"f":0.35,"l":0.35,"q":0.37},{"p":33,"x":75,"f":0.35,"l":0.34,"q":0.36},{"p":33,"x":80,"f":0.34,"l":0.34,"q":0.35},{"p":33,"x":85,"f":0.33,"l":0.33,"q":0.34},{"p":33,"x":90,"f":0.32,"l":0.31,"q":0.32},{"p":33,"x":95,"f":0.27,"l":0.3,"q":0.31},{"p":33,"x":100,"f":0.2,"l":0.28,"q":0.3},{"p":33,"x":105,"f":0.36,"l":0.35,"q":0.36},{"p":33,"x":110,"f":0.39,"l":0.38,"q":0.4},{"p":33,"x":115,"f":0.41,"l":0.42,"q":0.41},{"p":33,"x":120,"f":0.39,"l":0.4,"q":0.41},{"p":33,"x":125,"f":0.37,"l":0.38,"q":0.4},{"p":33,"x":130,"f":0.36,"l":0.37,"q":0.37},{"p":33,"x":135,"f":0.35,"l":0.38,"q":0.35},{"p":33,"x":140,"f":0.34,"l":0.36,"q":0.33},{"p":33,"x":145,"f":0.33,"l":0.33,"q":0.3},{"p":33,"x":150,"f":0.3,"l":0.31,"q":0.29},{"p":33,"x":155,"f":0.23,"l":0.25,"q":0.3},{"p":33,"x":160,"f":0.23,"l":0.24,"q":0.32},{"p":33,"x":165,"f":0.24,"l":0.24,"q":0.35},{"p":33,"x":170,"f":0.25,"l":0.27,"q":0.38},{"p":33,"x":175,"f":0.26,"l":0.34,"q":0.42},{"p":33,"x":180,"f":0.56,"l":0.45,"q":0.41}
]},
"columns":3,
"spacing":{"row":46,"column":47},
"bounds":"flush",
"concat":[
{"title":{"text":"𝑡 = 1.8425 ms","orient":"left","angle":0,"anchor":"middle","frame":"group","align":"left","baseline":"middle","offset":14,"fontSize":17.5,"fontWeight":"normal","color":"#333"},"width":271,"height":111,"transform":[{"filter":"datum.p==11"},{"fold":["f","l","q"],"as":["s","v"]}],"mark":{"type":"line","strokeWidth":1.5,"clip":true},"encoding":{"x":{"field":"x","type":"quantitative","scale":{"domain":[-198,198],"nice":false},"axis":{"values":[-180,-90,0,90,180],"labelExpr":"(datum.value<0?'−'+(-datum.value):datum.value)+'°'","title":null}},"y":{"field":"v","type":"quantitative","scale":{"domain":[0.13,2.035],"nice":false,"zero":false},"axis":{"values":[0.2,1.1,2.0],"format":".1f","title":"pressure [MPa]"}},"color":{"field":"s","type":"nominal","scale":{"domain":["f","l","q"],"range":["#000000","#d55e00","#0072b2"]},"legend":{"title":null,"orient":"none","legendX":25,"legendY":-41,"padding":0,"direction":"horizontal","symbolType":"M-1,0L3,0","symbolSize":342,"symbolStrokeWidth":2,"symbolFillColor":"transparent","labelFontSize":17.5,"labelOffset":32,"columnPadding":83,"labelLimit":400,"labelExpr":"datum.value=='f'?'full-order model (n = 34M)':datum.value=='l'?'linear ROM (r = 98)':'QB OpInf ROM (r = 12)'","encode":{"labels":{"update":{"fill":{"scale":"color","field":"value"}}},"symbols":{"update":{"stroke":{"scale":"color","field":"value"}}}}}}}},
{"width":271,"height":111,"transform":[{"filter":"datum.p==12"},{"fold":["f","l","q"],"as":["s","v"]}],"mark":{"type":"line","strokeWidth":1.5,"clip":true},"encoding":{"x":{"field":"x","type":"quantitative","scale":{"domain":[-198,198],"nice":false},"axis":{"values":[-180,-90,0,90,180],"labelExpr":"(datum.value<0?'−'+(-datum.value):datum.value)+'°'","title":null}},"y":{"field":"v","type":"quantitative","scale":{"domain":[0.2,1.218],"nice":false,"zero":false},"axis":{"values":[0.2,0.7,1.2],"format":".1f","title":null}},"color":{"field":"s","type":"nominal","scale":{"domain":["f","l","q"],"range":["#000000","#d55e00","#0072b2"]}}}},
{"width":271,"height":111,"transform":[{"filter":"datum.p==13"},{"fold":["f","l","q"],"as":["s","v"]}],"mark":{"type":"line","strokeWidth":1.5,"clip":true},"encoding":{"x":{"field":"x","type":"quantitative","scale":{"domain":[-198,198],"nice":false},"axis":{"values":[-180,-90,0,90,180],"labelExpr":"(datum.value<0?'−'+(-datum.value):datum.value)+'°'","title":null}},"y":{"field":"v","type":"quantitative","scale":{"domain":[0.152,0.606],"nice":false,"zero":false},"axis":{"values":[0.2,0.4,0.6],"format":".1f","title":null}},"color":{"field":"s","type":"nominal","scale":{"domain":["f","l","q"],"range":["#000000","#d55e00","#0072b2"]}}}},
{"title":{"text":"𝑡 = 1.9200 ms","orient":"left","angle":0,"anchor":"middle","frame":"group","align":"left","baseline":"middle","offset":14,"fontSize":17.5,"fontWeight":"normal","color":"#333"},"width":271,"height":111,"transform":[{"filter":"datum.p==21"},{"fold":["f","l","q"],"as":["s","v"]}],"mark":{"type":"line","strokeWidth":1.5,"clip":true},"encoding":{"x":{"field":"x","type":"quantitative","scale":{"domain":[-198,198],"nice":false},"axis":{"values":[-180,-90,0,90,180],"labelExpr":"(datum.value<0?'−'+(-datum.value):datum.value)+'°'","title":null}},"y":{"field":"v","type":"quantitative","scale":{"domain":[0.13,2.035],"nice":false,"zero":false},"axis":{"values":[0.2,1.1,2.0],"format":".1f","title":"pressure [MPa]"}},"color":{"field":"s","type":"nominal","scale":{"domain":["f","l","q"],"range":["#000000","#d55e00","#0072b2"]}}}},
{"width":271,"height":111,"transform":[{"filter":"datum.p==22"},{"fold":["f","l","q"],"as":["s","v"]}],"mark":{"type":"line","strokeWidth":1.5,"clip":true},"encoding":{"x":{"field":"x","type":"quantitative","scale":{"domain":[-198,198],"nice":false},"axis":{"values":[-180,-90,0,90,180],"labelExpr":"(datum.value<0?'−'+(-datum.value):datum.value)+'°'","title":null}},"y":{"field":"v","type":"quantitative","scale":{"domain":[0.2,1.218],"nice":false,"zero":false},"axis":{"values":[0.2,0.7,1.2],"format":".1f","title":null}},"color":{"field":"s","type":"nominal","scale":{"domain":["f","l","q"],"range":["#000000","#d55e00","#0072b2"]}}}},
{"width":271,"height":111,"transform":[{"filter":"datum.p==23"},{"fold":["f","l","q"],"as":["s","v"]}],"mark":{"type":"line","strokeWidth":1.5,"clip":true},"encoding":{"x":{"field":"x","type":"quantitative","scale":{"domain":[-198,198],"nice":false},"axis":{"values":[-180,-90,0,90,180],"labelExpr":"(datum.value<0?'−'+(-datum.value):datum.value)+'°'","title":null}},"y":{"field":"v","type":"quantitative","scale":{"domain":[0.152,0.606],"nice":false,"zero":false},"axis":{"values":[0.2,0.4,0.6],"format":".1f","title":null}},"color":{"field":"s","type":"nominal","scale":{"domain":["f","l","q"],"range":["#000000","#d55e00","#0072b2"]}}}},
{"title":{"text":"𝑡 = 1.9975 ms","orient":"left","angle":0,"anchor":"middle","frame":"group","align":"left","baseline":"middle","offset":14,"fontSize":17.5,"fontWeight":"normal","color":"#333"},"width":271,"height":111,"transform":[{"filter":"datum.p==31"},{"fold":["f","l","q"],"as":["s","v"]}],"mark":{"type":"line","strokeWidth":1.5,"clip":true},"encoding":{"x":{"field":"x","type":"quantitative","scale":{"domain":[-198,198],"nice":false},"axis":{"values":[-180,-90,0,90,180],"labelExpr":"(datum.value<0?'−'+(-datum.value):datum.value)+'°'","title":"θ","titleFontStyle":"italic","titleFontSize":18,"titlePadding":7}},"y":{"field":"v","type":"quantitative","scale":{"domain":[0.13,2.035],"nice":false,"zero":false},"axis":{"values":[0.2,1.1,2.0],"format":".1f","title":"pressure [MPa]"}},"color":{"field":"s","type":"nominal","scale":{"domain":["f","l","q"],"range":["#000000","#d55e00","#0072b2"]}}}},
{"width":271,"height":111,"transform":[{"filter":"datum.p==32"},{"fold":["f","l","q"],"as":["s","v"]}],"mark":{"type":"line","strokeWidth":1.5,"clip":true},"encoding":{"x":{"field":"x","type":"quantitative","scale":{"domain":[-198,198],"nice":false},"axis":{"values":[-180,-90,0,90,180],"labelExpr":"(datum.value<0?'−'+(-datum.value):datum.value)+'°'","title":"θ","titleFontStyle":"italic","titleFontSize":18,"titlePadding":7}},"y":{"field":"v","type":"quantitative","scale":{"domain":[0.2,1.218],"nice":false,"zero":false},"axis":{"values":[0.2,0.7,1.2],"format":".1f","title":null}},"color":{"field":"s","type":"nominal","scale":{"domain":["f","l","q"],"range":["#000000","#d55e00","#0072b2"]}}}},
{"width":271,"height":111,"transform":[{"filter":"datum.p==33"},{"fold":["f","l","q"],"as":["s","v"]}],"mark":{"type":"line","strokeWidth":1.5,"clip":true},"encoding":{"x":{"field":"x","type":"quantitative","scale":{"domain":[-198,198],"nice":false},"axis":{"values":[-180,-90,0,90,180],"labelExpr":"(datum.value<0?'−'+(-datum.value):datum.value)+'°'","title":"θ","titleFontStyle":"italic","titleFontSize":18,"titlePadding":7}},"y":{"field":"v","type":"quantitative","scale":{"domain":[0.152,0.606],"nice":false,"zero":false},"axis":{"values":[0.2,0.4,0.6],"format":".1f","title":null}},"color":{"field":"s","type":"nominal","scale":{"domain":["f","l","q"],"range":["#000000","#d55e00","#0072b2"]}}}}
]
}
